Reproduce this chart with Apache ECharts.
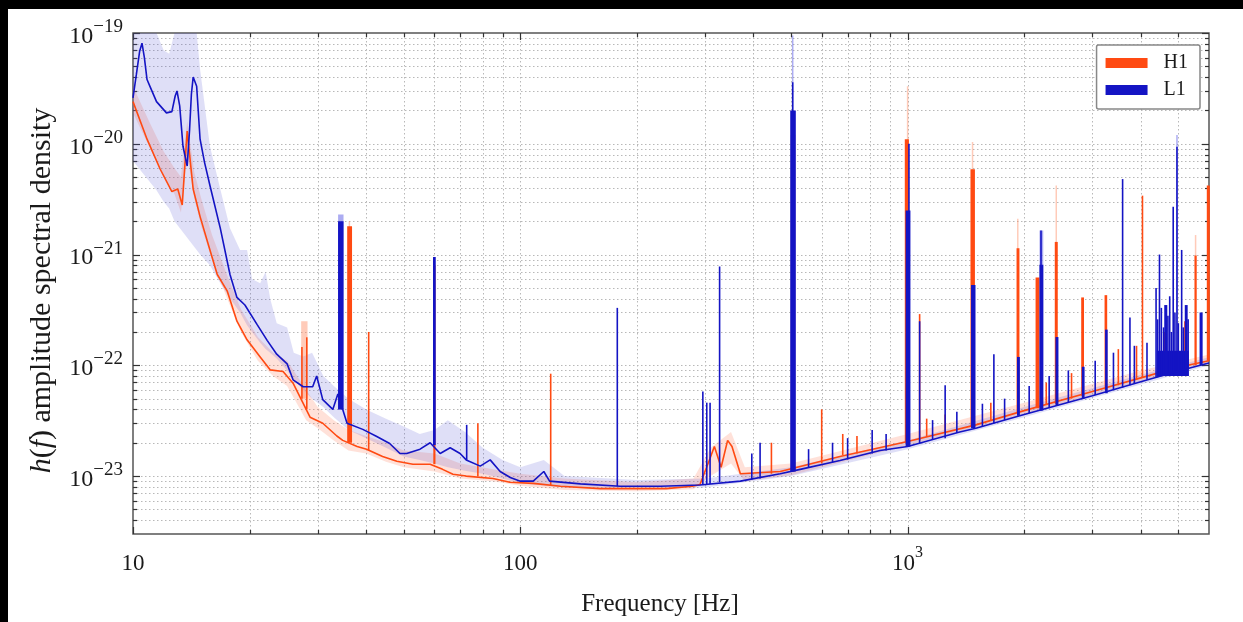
<!DOCTYPE html>
<html><head><meta charset="utf-8">
<script src="https://cdn.jsdelivr.net/npm/echarts@6/dist/echarts.min.js"></script>
<style>html,body{margin:0;padding:0;background:#fff;}#c{width:1243px;height:622px;}</style>
</head><body><div id="c"></div>
<script>
// ---------------- data ----------------
const xTickVals = [10, 100, 1000];
const xTickLabels = ['{b|10}{s|\u200b}', '{b|100}{s|\u200b}', '{b|10}{s|3}'];
const yTickVals = [1e-23, 1e-22, 1e-21, 1e-20, 1e-19];
const yTickLabels = ['{b|10}{s|\u221223}', '{b|10}{s|\u221222}', '{b|10}{s|\u221221}', '{b|10}{s|\u221220}', '{b|10}{s|\u221219}'];
const xMinorVals = [20,30,40,50,60,70,80,90,200,300,400,500,600,700,800,900,2000,3000,4000,5000];
const yMinorMantissas = [2,3,4,5,6,7,8,9];
const yMinorExponents = [-24,-23,-22,-21,-20];

// H1 median ASD
const h1Freq = [10,10.87,11.74,12.6,13.05,13.4,13.8,14.3,14.9,15.8,16.5,17.5,18.55,19.7,21.3,22.6,24.4,25.9,28.65,30.9,33.6,34.8,37.9,40.1,44.1,48,52.8,58.5,63,67,72.5,85,94,108,127,161,195,238,278,291,309,317,330,343,352,370,469,669,1000,1500,2000,3000,4000,5000,6000];
const h1Val = [2.4e-20,1.1e-20,5.95e-21,3.7e-21,3.9e-21,2.8e-21,1.3e-20,3.9e-21,2.2e-21,1.1e-21,6.6e-22,4.7e-22,2.5e-22,1.7e-22,1.19e-22,9.1e-23,8.8e-23,6.9e-23,3.4e-23,3.0e-23,2.3e-23,2.1e-23,1.85e-23,1.75e-23,1.5e-23,1.36e-23,1.28e-23,1.28e-23,1.15e-23,1.04e-23,1.0e-23,9.5e-24,8.8e-24,8.6e-24,8.1e-24,7.7e-24,7.7e-24,7.7e-24,8.1e-24,8.4e-24,1.45e-23,1.85e-23,1.2e-23,2.1e-23,1.85e-23,1.05e-23,1.1e-23,1.5e-23,2.05e-23,2.9e-23,3.9e-23,5.8e-23,7.7e-23,9.6e-23,1.1e-22];

// L1 median ASD
const l1Freq = [10,10.2,10.4,10.55,10.7,10.87,11.06,11.5,12.2,12.6,12.85,12.99,13.2,13.46,13.8,14.0,14.15,14.3,14.6,14.9,15.3,15.8,16.8,17.8,18.55,19.45,20.9,22.2,23.5,25.0,25.9,27.5,29.1,29.8,30.9,32.8,33.8,35.7,39.2,42.6,46.0,48.9,50.9,55.1,58.5,62.1,65.9,69.9,72.5,78.8,83.6,88.7,94.2,100,108,115,119,143,181,230,291,370,469,528,669,849,1000,1363,1500,2000,3000,4000,5000,6000];
const l1Val = [2.6e-20,4.2e-20,6.8e-20,8.1e-20,6.0e-20,3.8e-20,3.3e-20,2.4e-20,1.9e-20,1.95e-20,2.7e-20,3.0e-20,2.2e-20,9.5e-21,6.3e-21,1.35e-20,2.8e-20,4.0e-20,3.3e-20,1.1e-20,6.8e-21,4.2e-21,1.73e-21,6.6e-22,4.1e-22,3.5e-22,2.34e-22,1.68e-22,1.26e-22,1.03e-22,7.4e-23,6.4e-23,6.4e-23,8.0e-23,4.9e-23,4.0e-23,5.5e-23,3.0e-23,2.64e-23,2.28e-23,1.97e-23,1.6e-23,1.6e-23,1.75e-23,2.0e-23,1.6e-23,1.8e-23,1.6e-23,1.4e-23,1.23e-23,1.4e-23,1.1e-23,9.7e-24,9.0e-24,9.0e-24,1.1e-23,9.0e-24,8.5e-24,8.1e-24,8.1e-24,8.3e-24,9.0e-24,1.05e-23,1.15e-23,1.38e-23,1.7e-23,1.85e-23,2.5e-23,2.7e-23,3.6e-23,5.3e-23,7.1e-23,8.9e-23,1.05e-22];

// H1 percentile band
const h1BandFreq = [10,11,12,12.8,13.3,13.8,14.4,15,16,17.5,19,21,23,25,28,30,33,36,40,45,50,60,70,85,100,130,200,280,310,350,380,500,1000,2000,4000,6000];
const h1BandHigh = [3.3e-20,1.6e-20,8.5e-21,6e-21,5e-21,1.6e-20,5.5e-21,3.2e-21,1.5e-21,6.5e-22,3.2e-22,1.8e-22,1.3e-22,1.1e-22,6e-23,4.2e-23,3.2e-23,2.6e-23,2.3e-23,2e-23,1.7e-23,1.6e-23,1.3e-23,1.15e-23,1.05e-23,9.5e-24,8.8e-24,9.5e-24,1.8e-23,2.5e-23,1.2e-23,1.3e-23,2.4e-23,4.6e-23,9.0e-23,1.25e-22];
const h1BandLow = [1.9e-20,9.5e-21,5.2e-21,3.5e-21,2.4e-21,8e-21,3.2e-21,1.8e-21,9e-22,4e-22,2e-22,1.1e-22,8e-23,6.5e-23,3.2e-23,2.7e-23,2.1e-23,1.7e-23,1.6e-23,1.35e-23,1.2e-23,1.1e-23,9.5e-24,9e-24,8.2e-24,7.5e-24,7.3e-24,7.6e-24,1.0e-23,1.3e-23,9e-24,1.02e-23,1.9e-23,3.6e-23,7.2e-23,1.05e-22];

// L1 percentile band
const l1BandFreq = [10,11.5,12.0,12.4,12.8,14.6,14.9,15.8,16.8,17.8,18.9,19.7,20.3,21.3,22.0,22.6,23.5,25,26,27.5,29,31,33,36,40,45,50,55,60,65,72,80,90,100,115,130,200,300,500,1000,2000,4000,6000];
const l1BandHigh = [1.2e-19,1.2e-19,7e-20,6.5e-20,1.2e-19,1.2e-19,4.7e-20,9.5e-21,3.9e-21,1.73e-21,1.1e-21,1.1e-21,6e-22,5.5e-22,7e-22,4e-22,2.4e-22,2.2e-22,1.3e-22,1.2e-22,1.3e-22,8e-23,6.5e-23,5e-23,4e-23,3.3e-23,2.8e-23,2.4e-23,2.6e-23,3.2e-23,2.5e-23,1.8e-23,1.4e-23,1.2e-23,1.4e-23,1.0e-23,9.2e-24,9.5e-24,1.2e-23,2.1e-23,4.2e-23,8.2e-23,1.18e-22];
const l1BandLow = [7e-21,3.8e-21,3.0e-21,2.6e-21,2.0e-21,1.1e-21,1.0e-21,8e-22,5.5e-22,4e-22,3e-22,2.3e-22,2e-22,1.6e-22,1.4e-22,1.3e-22,1.15e-22,9e-23,7.5e-23,6e-23,5e-23,4.2e-23,3.4e-23,2.6e-23,2.2e-23,1.8e-23,1.5e-23,1.4e-23,1.3e-23,1.2e-23,1.12e-23,1.05e-23,9.5e-24,8.6e-24,8.2e-24,7.9e-24,7.8e-24,7.9e-24,1.0e-23,1.75e-23,3.4e-23,6.7e-23,1.0e-22];

// narrow lines: [freq low, freq high, floor, peak]
const h1Lines = [
  [27.3,27.3,5e-23,1.46e-22],[28.1,28.1,4e-23,1.79e-22],[35.9,36.6,2.0e-23,1.8e-21],[40.6,40.6,1.7e-23,2.0e-22],
  [59.9,60.1,1.28e-23,8.0e-22],[77.7,77.7,1.0e-23,3.0e-23],[119.8,119.8,8.3e-24,8.4e-23],[445,445,1.05e-23,2.0e-23],
  [502,510,1.1e-23,1.2e-20],[600,600,1.3e-23,4.0e-23],[680,680,1.55e-23,2.4e-23],[740,740,1.6e-23,2.3e-23],
  [988,1003,2e-23,1.1e-20],[1074,1074,2.1e-23,2.9e-22],[1120,1120,2.25e-23,3.3e-23],[1250,1250,2.45e-23,3.6e-23],
  [1460,1485,2.8e-23,5.9e-21],[1640,1640,3.2e-23,4.6e-23],[1920,1935,3.7e-23,1.14e-21],[2150,2180,4.1e-23,6.2e-22],
  [2280,2280,4.4e-23,7e-23],[2410,2430,4.5e-23,1.3e-21],[2650,2650,5e-23,8.5e-23],[2820,2840,5.3e-23,4.1e-22],
  [3240,3260,6.0e-23,4.3e-22],[3500,3500,6.6e-23,1.4e-22],[3900,3900,7.4e-23,1.5e-22],[4040,4040,7.7e-23,3.4e-21],
  [4600,4600,8.6e-23,2e-22],[5200,5200,9.8e-23,2.5e-22],[5530,5550,1.0e-22,9.8e-22],[5950,6000,1.1e-22,4.2e-21]
];
const l1Lines = [
  [34.0,34.8,4e-23,2.0e-21],[59.8,60.2,1.9e-23,9.5e-22],[72.7,72.7,1.4e-23,2.9e-23],[178,178,8.1e-24,3.3e-22],
  [296,296,8.3e-24,5.8e-23],[303,303,8.3e-24,4.6e-23],[309,309,8.5e-24,4.6e-23],[327,327,8.8e-24,7.8e-22],
  [396,396,9.3e-24,1.6e-23],[416,416,9.5e-24,2.0e-23],[500,512,1.1e-23,2.0e-20],[505,505,1.1e-23,3.6e-20],
  [555,555,1.2e-23,1.75e-23],[640,640,1.33e-23,2.0e-23],[700,700,1.41e-23,2.2e-23],[810,810,1.6e-23,2.6e-23],
  [880,880,1.7e-23,2.4e-23],[993,1012,1.85e-23,2.5e-21],[1008,1008,1.85e-23,1.0e-20],[1074,1074,1.95e-23,2.5e-22],
  [1160,1160,2.15e-23,3.2e-23],[1250,1250,2.2e-23,6.6e-23],[1340,1340,2.45e-23,3.8e-23],[1465,1490,2.7e-23,5.3e-22],
  [1560,1560,2.8e-23,4.5e-23],[1670,1670,3e-23,1.26e-22],[1780,1780,3.2e-23,5e-23],[1925,1940,3.5e-23,1.19e-22],
  [2060,2060,3.7e-23,6.5e-23],[2200,2230,3.9e-23,8.1e-22],[2210,2210,3.9e-23,1.65e-21],[2320,2320,4.1e-23,8e-23],
  [2420,2440,4.3e-23,1.8e-22],[2600,2600,4.6e-23,9e-23],[2830,2850,5e-23,9.7e-23],[3050,3050,5.4e-23,1.1e-22],
  [3250,3270,5.6e-23,2.1e-22],[3400,3400,6e-23,1.3e-22],[3590,3590,6.3e-23,4.8e-21],[3750,3750,6.6e-23,2.7e-22],
  [3850,3850,6.9e-23,1.5e-22],[4150,4150,7.4e-23,1.6e-22],[4380,4380,7.7e-23,5e-22],[4420,5300,8e-23,1.35e-22],
  [4420,4420,7.8e-23,2.6e-22],[4470,4470,7.9e-23,1.0e-21],[4520,4520,8e-23,3.3e-22],[4580,4580,8e-23,2.2e-22],
  [4620,4660,8e-23,3.5e-22],[4700,4700,8.2e-23,2.8e-22],[4750,4750,8.3e-23,4.2e-22],[4800,4800,8.4e-23,2.0e-22],
  [4850,4850,8.5e-23,2.7e-21],[4900,4900,8.6e-23,3.0e-22],[4960,4960,8.7e-23,9.4e-21],[5000,5000,8.8e-23,2.4e-22],
  [5100,5100,9e-23,1.1e-21],[5150,5150,9.1e-23,2.2e-22],[5220,5260,9.2e-23,3.5e-22],[5300,5300,9.3e-23,2.6e-22],
  [5700,5750,1.0e-22,3e-22]
];
// faint (upper-percentile) extensions of lines
const h1FaintLines = [[27.3,28.1,5e-23,2.5e-22],[36.2,36.2,2e-23,2.0e-21],[1000,1000,2e-23,3.3e-20],[1471,1471,2.8e-23,1.04e-20],[1925,1925,3.7e-23,2.1e-21],[2420,2420,4.5e-23,4.2e-21],[5540,5540,1e-22,1.5e-21]];
const l1FaintLines = [[34.0,34.8,4e-23,2.3e-21],[505,505,1.1e-23,9.5e-20],[2200,2230,3.9e-23,1.65e-21],[4960,4960,8.7e-23,1.2e-20]];

// ---------------- chart ----------------
// ECharts rounds tiny numbers to 20 decimals, so strain values are handed to the
// library in units of 1e-24 (labels still show the true powers of ten).
const Y_UNIT = 1e24;
const sy = v => v * Y_UNIT;
const X_MIN = 10, X_MAX = 6000, Y_MIN = sy(3e-24), Y_MAX = sy(1e-19);
const FONT = 'Liberation Serif';
const H1_COLOR = '#ff4a12', L1_COLOR = '#1414c4';
const TXT = '#1a1a1a';

function pickLabel(vals, labels, v) {
  for (let i = 0; i < vals.length; i++) {
    if (Math.abs(Math.log10(vals[i]) - Math.log10(v)) < 1e-6) return labels[i];
  }
  return '';
}

function bandSeries(name, freq, low, high, color, z) {
  const lo = low.map(sy), hi = high.map(sy);
  return {
    type: 'custom', name, z, silent: true,
    data: freq.map((f, i) => [f, lo[i], hi[i]]),
    encode: { x: 0, y: [1, 2] },
    renderItem(params, api) {
      if (params.dataIndex !== 0) return null;
      const pts = [];
      for (let i = 0; i < freq.length; i++) pts.push(api.coord([freq[i], Math.min(hi[i], Y_MAX)]));
      for (let i = freq.length - 1; i >= 0; i--) pts.push(api.coord([freq[i], Math.max(lo[i], Y_MIN)]));
      return { type: 'polygon', shape: { points: pts }, style: { fill: color } };
    }
  };
}

function lineMarks(name, data, color, w, z) {
  return {
    type: 'custom', name, z, silent: true,
    data: data.map(d => [d[0], d[1], sy(d[2]), sy(d[3])]),
    encode: { x: [0, 1], y: [2, 3] },
    renderItem(params, api) {
      const lo = api.value(0), hi = api.value(1);
      const b = Math.max(api.value(2), Y_MIN), p = Math.min(api.value(3), Y_MAX);
      const a = api.coord([lo, p]), c = api.coord([hi, b]);
      return { type: 'rect', shape: { x: a[0] - w / 2, y: a[1], width: Math.max(c[0] - a[0], 0) + w, height: c[1] - a[1] }, style: { fill: color } };
    }
  };
}

const yMinorVals = [];
yMinorExponents.forEach(e => yMinorMantissas.forEach(m => { const v = sy(m * Math.pow(10, e)); if (v > Y_MIN * 1.001 && v < Y_MAX) yMinorVals.push(v); }));
const yMajorScaled = yTickVals.map(sy);

const gridSeries = {
  type: 'custom', name: 'grid', z: 1, silent: true, data: [[X_MIN, Y_MIN]],
  encode: { x: 0, y: 1 },
  renderItem(params, api) {
    const cs = params.coordSys;
    const x0 = cs.x, x1 = cs.x + cs.width, y0 = cs.y, y1 = cs.y + cs.height;
    const ch = [];
    const dot = { stroke: '#b8b8b8', lineWidth: 1, lineDash: [1.5, 2.5] };
    const tick = { stroke: '#333', lineWidth: 1.2 };
    const xs = [];
    xTickVals.forEach(v => xs.push([v, 7])); xMinorVals.forEach(v => xs.push([v, 4]));
    xs.forEach(([v, len]) => {
      const px = Math.round(api.coord([v, Y_MIN])[0]) + 0.5;
      if (px > x0 + 1 && px < x1 - 1) ch.push({ type: 'line', shape: { x1: px, y1: y0, x2: px, y2: y1 }, style: dot });
      ch.push({ type: 'line', shape: { x1: px, y1: y1, x2: px, y2: y1 - len }, style: tick });
      ch.push({ type: 'line', shape: { x1: px, y1: y0, x2: px, y2: y0 + len }, style: tick });
    });
    const ys = [];
    yMajorScaled.forEach(v => ys.push([v, 7])); yMinorVals.forEach(v => ys.push([v, 4]));
    ys.forEach(([v, len]) => {
      const py = Math.round(api.coord([X_MIN, v])[1]) + 0.5;
      if (py > y0 + 1 && py < y1 - 1) ch.push({ type: 'line', shape: { x1: x0, y1: py, x2: x1, y2: py }, style: dot });
      ch.push({ type: 'line', shape: { x1: x0, y1: py, x2: x0 + len, y2: py }, style: tick });
      ch.push({ type: 'line', shape: { x1: x1, y1: py, x2: x1 - len, y2: py }, style: tick });
    });
    return { type: 'group', children: ch };
  }
};

const richX = {
  b: { fontFamily: FONT, fontSize: 23, color: TXT, lineHeight: 30, verticalAlign: 'bottom' },
  s: { fontFamily: FONT, fontSize: 16, color: TXT, lineHeight: 18, verticalAlign: 'top' }
};
const richY = {
  b: { fontFamily: FONT, fontSize: 24, color: TXT, lineHeight: 31, verticalAlign: 'bottom' },
  s: { fontFamily: FONT, fontSize: 19, color: TXT, lineHeight: 18, verticalAlign: 'top' }
};

const option = {
  animation: false,
  backgroundColor: '#ffffff',
  grid: { left: 133, right: 34, top: 33, bottom: 85, show: true, borderColor: '#555', borderWidth: 1.5, backgroundColor: 'transparent' },
  legend: {
    data: ['H1', 'L1'], orient: 'vertical', right: 43, top: 45,
    icon: 'rect', itemWidth: 42, itemHeight: 10, itemGap: 7,
    backgroundColor: '#fff', borderColor: '#888', borderWidth: 1.5, borderRadius: 2,
    padding: [8, 12, 9, 9],
    textStyle: { fontFamily: FONT, fontSize: 20, color: TXT, padding: [0, 0, 0, 11] }
  },
  xAxis: {
    type: 'log', logBase: 10, min: X_MIN, max: X_MAX,
    axisLine: { show: false }, axisTick: { show: false }, splitLine: { show: false },
    axisLabel: { margin: 11, fontFamily: FONT, fontSize: 23, color: TXT, rich: richX,
      formatter: v => pickLabel(xTickVals, xTickLabels, v) },
    name: 'Frequency [Hz]', nameLocation: 'middle', nameGap: 58,
    nameTextStyle: { fontFamily: FONT, fontSize: 25, color: TXT, padding: [0, 22, 0, 0] }
  },
  yAxis: {
    type: 'log', logBase: 10, min: Y_MIN, max: Y_MAX,
    axisLine: { show: false }, axisTick: { show: false }, splitLine: { show: false },
    axisLabel: { margin: 10, fontFamily: FONT, fontSize: 24, color: TXT, rich: richY,
      formatter: v => pickLabel(yMajorScaled, yTickLabels, v) },
    name: '{i|h}({i|f}) amplitude spectral density', nameLocation: 'middle', nameGap: 76,
    nameTextStyle: { fontFamily: FONT, fontSize: 30, color: TXT, padding: [0, 14, 0, 0],
      rich: { i: { fontFamily: FONT, fontSize: 30, fontStyle: 'italic', color: TXT } } }
  },
  series: [
    gridSeries,
    bandSeries('H1 band', h1BandFreq, h1BandLow, h1BandHigh, 'rgba(255,120,80,0.22)', 2),
    bandSeries('L1 band', l1BandFreq, l1BandLow, l1BandHigh, 'rgba(80,80,210,0.18)', 2),
    lineMarks('H1 faint', h1FaintLines, 'rgba(255,140,100,0.45)', 1.5, 3),
    lineMarks('L1 faint', l1FaintLines, 'rgba(90,90,230,0.5)', 1.5, 3),
    { type: 'line', name: 'H1', z: 4, data: h1Freq.map((f, i) => [f, sy(h1Val[i])]), showSymbol: false, symbol: 'none',
      lineStyle: { color: H1_COLOR, width: 1.6 }, itemStyle: { color: H1_COLOR }, silent: true },
    lineMarks('H1 lines', h1Lines, H1_COLOR, 1.6, 4),
    { type: 'line', name: 'L1', z: 5, data: l1Freq.map((f, i) => [f, sy(l1Val[i])]), showSymbol: false, symbol: 'none',
      lineStyle: { color: L1_COLOR, width: 1.6 }, itemStyle: { color: L1_COLOR }, silent: true },
    lineMarks('L1 lines', l1Lines, L1_COLOR, 1.6, 5)
  ],
  graphic: [
    { type: 'rect', left: 0, top: 0, shape: { width: 1243, height: 9 }, style: { fill: '#000' }, z: 100 },
    { type: 'rect', left: 0, top: 0, shape: { width: 8, height: 622 }, style: { fill: '#000' }, z: 100 }
  ]
};

const chart = echarts.init(document.getElementById('c'));
chart.setOption(option);
</script></body></html>
